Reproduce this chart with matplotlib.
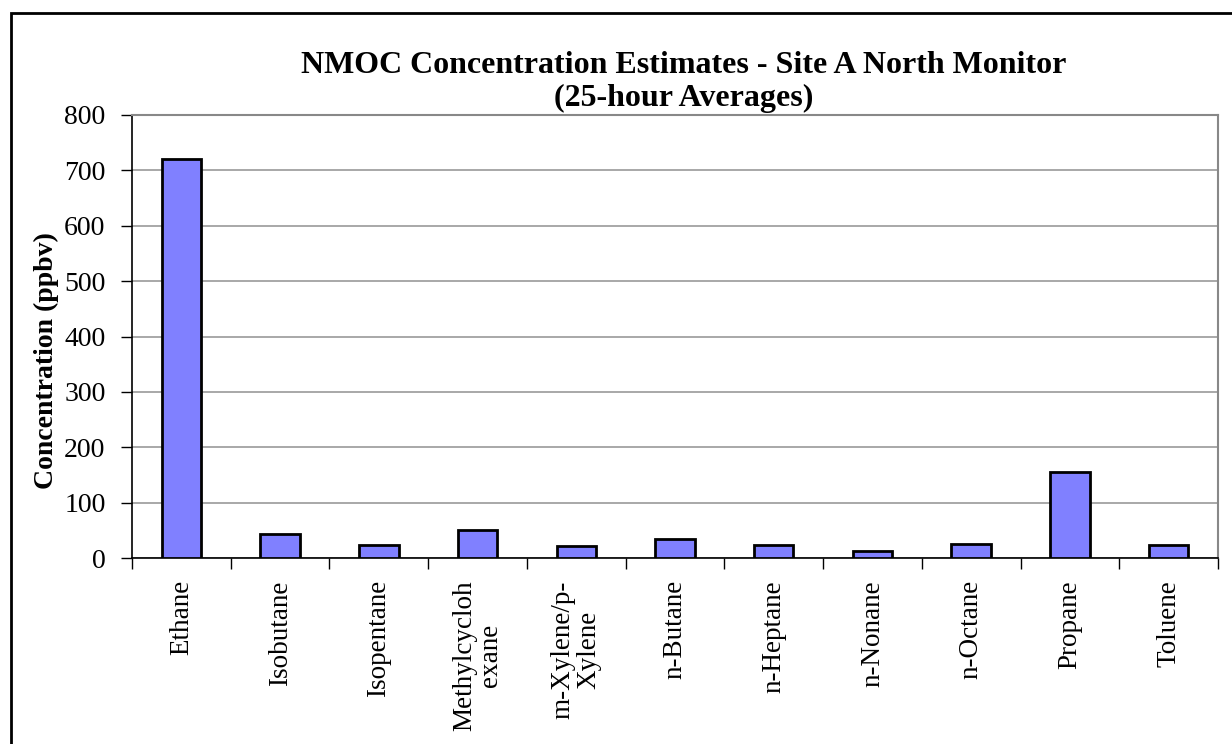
import numpy as np
import matplotlib
matplotlib.use("Agg")
import matplotlib.pyplot as plt
from matplotlib.patches import Rectangle

compounds = ["Ethane", "Isobutane", "Isopentane", "Methylcycloh\nexane", "m-Xylene/p-\nXylene",
             "n-Butane", "n-Heptane", "n-Nonane", "n-Octane", "Propane", "Toluene"]
conc = [721, 43, 24, 51, 22, 34, 23, 13, 25, 155, 23]
yticks = [0, 100, 200, 300, 400, 500, 600, 700, 800]

plt.rcParams['font.family'] = ['Liberation Serif', 'DejaVu Serif']

fig = plt.figure(figsize=(12.32, 7.44), dpi=100)
ax = fig.add_axes([132/1232, 1-558/744, (1218-132)/1232, (558-115)/744])

# outer chart border (only top and left visible)
fig.patches.append(Rectangle((11/1232, -0.1), 1.2, (744-13)/744 + 0.1, transform=fig.transFigure,
                             fill=False, edgecolor='black', linewidth=2))

x = np.arange(len(compounds))
ax.bar(x, conc, width=0.4, color='#8080FF', edgecolor='black', linewidth=2, zorder=3)

ax.set_xlim(-0.5, len(compounds) - 0.5)
ax.set_ylim(0, 800)
ax.set_yticks(yticks)
ax.set_yticklabels([str(v) for v in yticks], fontsize=20)
ax.yaxis.grid(True, color='#999999', linewidth=1.2, zorder=0)

ax.set_xticks(x)
ax.set_xticklabels(compounds, rotation=90, fontsize=19.5, va='top', ha='center', linespacing=1.05)
ax.set_xticks(np.arange(len(compounds) + 1) - 0.5, minor=True)
ax.tick_params(axis='x', which='major', length=0, pad=16)
ax.tick_params(axis='x', which='minor', length=8, direction='out', width=1)
ax.tick_params(axis='y', length=8, direction='out', width=1, pad=11)

for s in ['top', 'right']:
    ax.spines[s].set_color('#888888')
    ax.spines[s].set_linewidth(1.5)
for s in ['left', 'bottom']:
    ax.spines[s].set_color('black')
    ax.spines[s].set_linewidth(1.2)

ax.set_ylabel("Concentration (ppbv)", fontsize=20, fontweight='bold')
ax.yaxis.set_label_coords(-0.067, 0.445)
fig.text(684/1232, 1-82/744, "NMOC Concentration Estimates - Site A North Monitor\n(25-hour Averages)",
         ha='center', va='center', fontsize=23, fontweight='bold', linespacing=1.15)

fig.savefig("out.png", dpi=100)
